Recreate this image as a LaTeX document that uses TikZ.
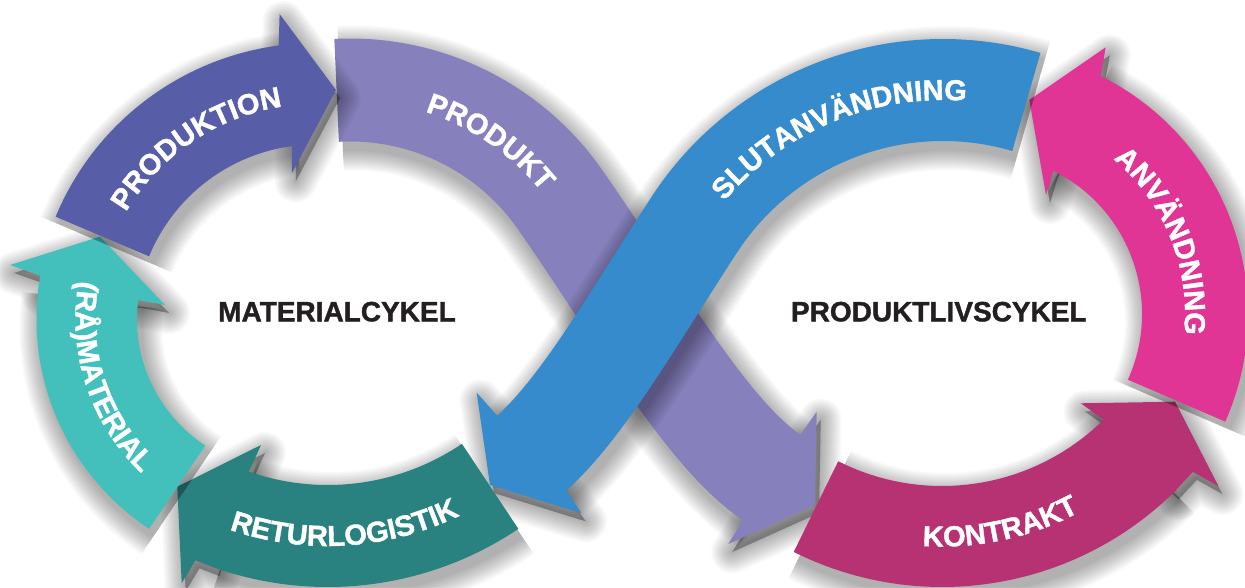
\documentclass[tikz,border=0pt]{standalone}
\usepackage{fontspec}
\setmainfont{Liberation Sans}[BoldFeatures={FakeBold=1.3}]
\usetikzlibrary{calc,decorations.text}
\definecolor{cProdn}{HTML}{585DA8}
\definecolor{cLav}{HTML}{8680BC}
\definecolor{cBlue}{HTML}{358BCB}
\definecolor{cPink}{HTML}{E03594}
\definecolor{cKontr}{HTML}{B73272}
\definecolor{cRetur}{HTML}{29827F}
\definecolor{cTeal}{HTML}{43C0BC}
\definecolor{cInk}{HTML}{231F20}
% #1 colour, #2 band centre line, #3 head polygon, #4 band width
\newcommand{\loopArrow}[4]{%
  \begin{scope}[shift={(4,8)}]
    \foreach \k in {1,...,14}{%
      \draw[black, draw opacity=0.022, line width=#4+3*\k] #2;
      \filldraw[black, fill opacity=0.022, draw opacity=0.022, line width=3*\k, line join=round] #3;
    }
  \end{scope}
  \draw[#1, line width=#4] #2;
  \fill[#1] #3;
}
\tikzset{
  curvelabel/.style={decorate, decoration={text along path, text align=center, text color=white,
     text={|\fontsize{29}{29}\selectfont\bfseries|#1}}},
  cyclelabel/.style={font=\fontsize{28}{28}\selectfont\bfseries, text=cInk}
}
\begin{document}
\begin{tikzpicture}[x=1pt,y=-1pt]
\fill[white] (0,0) rectangle (1245,587);
\useasboundingbox (0,0) rectangle (1245,587);

% PRODUKT (lavender S-band)
\loopArrow{cLav}{([shift={(267:256)}]350,346) arc[start angle=267, end angle=325, radius=256]
   .. controls (634.3,305.7) and (705.4,432.8) .. (771.7,477.5) -- ++(2.5,1.7)}
  {(800.5,434.8) -- (816.7,411.7) -- (815,505) -- (728.3,544) -- (742.9,520.2) -- cycle}{103}

% KONTRAKT
\loopArrow{cKontr}{([shift={(116.7:280.5)}]942,256) arc[start angle=116.7, end angle=45.0, radius=280.5]}
  {(1103.6,419.6) -- (1080.7,403.3) -- (1175,401.7) -- (1218.3,486) -- (1192.9,471.8) -- (1174.6,491.5) -- cycle}{101}

% ANVAENDNING
\loopArrow{cPink}{([shift={(24:213)}]982,314) arc[start angle=24, end angle=-64, radius=213]}
  {(1053.4,170.8) -- (1046,195) -- (1029.3,100) -- (1105.7,47.3) -- (1100.7,75.9) -- cycle}{106}

% SLUTANVAENDNING (blue S-band)
\loopArrow{cBlue}{([shift={(286.3:297)}]943,387) arc[start angle=286.3, end angle=213, radius=297]
   .. controls (628.5,325.9) and (583.3,406) .. (531.7,453.3) -- ++(-1.5,1.4)}
  {(497.2,415.7) -- (476.7,392.7) -- (490,485) -- (581.7,513.3) -- (566.2,490.9) -- cycle}{102}

% RETURLOGISTIK
\loopArrow{cRetur}{([shift={(56:290.5)}]327.7,245.5) arc[start angle=56, end angle=109.5, radius=290.5]}
  {(248.9,471.7) -- (261,445) -- (177.3,486.7) -- (181.7,583.3) -- (195.4,560.3) -- (215.4,568) -- cycle}{102}

% (RAA)MATERIAL
\loopArrow{cTeal}{([shift={(123.5:201.75)}]288.5,319) arc[start angle=123.5, end angle=187.5, radius=201.75]}
  {(138.2,300) -- (165,305) -- (100,236.7) -- (10,265) -- (40.3,275.7) -- (38.5,287.4) -- cycle}{100.5}

% PRODUKTION
\loopArrow{cProdn}{([shift={(202.5:231.25)}]316,325) arc[start angle=202.5, end angle=262.8, radius=231.25]}
  {(292.1,146.1) -- (291.8,173.3) -- (336,90) -- (279.6,14) -- (278.7,45.5) -- cycle}{101.5}

% curved labels
\path[curvelabel=PRODUKTION] ([shift={(186:221)}]316,325) arc[start angle=186, end angle=286, radius=221];
\path[curvelabel={(RÅ)MATERIAL}] ([shift={(212:213)}]288.5,319) arc[start angle=212, end angle=112, radius=213];
\path[curvelabel=RETURLOGISTIK] ([shift={(131.5:300.5)}]327.7,245.5) arc[start angle=131.5, end angle=41.5, radius=300.5];
\path[curvelabel=PRODUKT] ([shift={(264.5:246)}]350,346) arc[start angle=264.5, end angle=344.5, radius=246];
\path[curvelabel=SLUTANVÄNDNING] ([shift={(197.5:287)}]943,387) arc[start angle=197.5, end angle=297.5, radius=287];
\path[curvelabel=ANVÄNDNING] ([shift={(-72:203)}]982,314) arc[start angle=-72, end angle=28, radius=203];
\path[curvelabel=KONTRAKT] ([shift={(122.8:290.5)}]942,256) arc[start angle=122.8, end angle=32.8, radius=290.5];

% cycle names
\node[cyclelabel] (matcyk) at (337,311.7) {MATERIALCYKEL};
\node[cyclelabel] (prodcyk) at (938.8,311.7) {PRODUKTLIVSCYKEL};
\end{tikzpicture}
\end{document}
